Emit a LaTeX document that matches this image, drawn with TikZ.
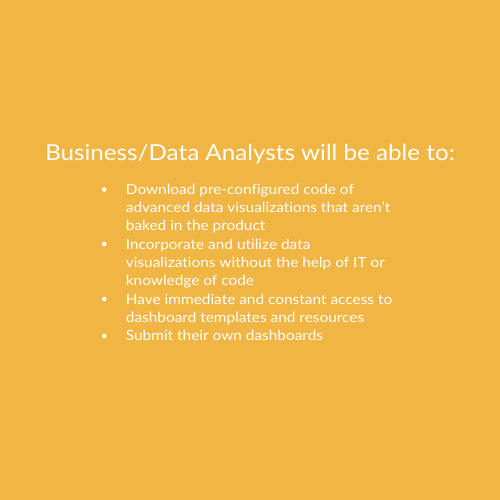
\documentclass[tikz,border=0pt]{standalone}
\usepackage{fontspec}
\setmainfont{Lato}[FakeStretch=1.1,Ligatures={NoCommon,NoRare,NoDiscretionary}]
\definecolor{bg}{HTML}{F1B543}
\tikzset{
  title/.style={anchor=base, text=white, inner sep=0pt, font=\fontsize{22}{26}\selectfont},
  line/.style={anchor=base west, text=white, inner sep=0pt, font=\fontsize{14}{18}\selectfont},
  dot/.style={circle, fill=white, inner sep=0pt, minimum size=4.6pt}
}
\begin{document}
\begin{tikzpicture}[x=1pt,y=-1pt]
\fill[bg] (0,0) rectangle (500,500);
\useasboundingbox (0,0) rectangle (500,500);
\node[title] (t) at (250,160) {Business/Data Analysts will be able to:};
\node[dot] (b1) at (104.3,189.5) {};
\node[line] (l1) at (125.7,194) {Download pre-configured code of};
\node[line] (l2) at (125.7,212.3) {advanced data visualizations that aren’t};
\node[line] (l3) at (125.7,230.7) {baked in the product};
\node[dot] (b2) at (104.3,244) {};
\node[line] (l4) at (125.7,249) {Incorporate and utilize data};
\node[line] (l5) at (125.7,267.4) {visualizations without the help of IT or};
\node[line] (l6) at (125.7,285.7) {knowledge of code};
\node[dot] (b3) at (104.3,299) {};
\node[line] (l7) at (125.7,304) {Have immediate and constant access to};
\node[line] (l8) at (125.7,322.4) {dashboard templates and resources};
\node[dot] (b4) at (104.3,336) {};
\node[line] (l9) at (125.7,340.7) {Submit their own dashboards};
\end{tikzpicture}
\end{document}
